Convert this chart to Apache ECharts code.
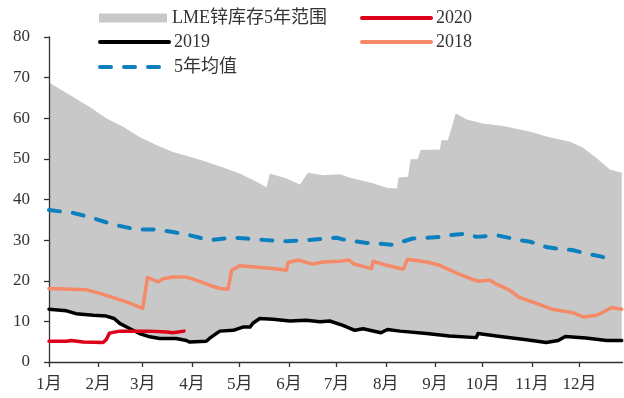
<!DOCTYPE html>
<html>
<head>
<meta charset="utf-8">
<script src="https://cdn.jsdelivr.net/npm/echarts@6/dist/echarts.min.js"></script>
<style>html,body{margin:0;padding:0;background:#fff}#c{width:624px;height:398px}</style>
</head>
<body>
<div id="c"></div>
<script>
// Month ticks (day of year where each month starts)
var monthStartDays = [0, 31, 59, 90, 120, 151, 181, 212, 243, 273, 304, 334];
var monthLabels = ['1月','2月','3月','4月','5月','6月','7月','8月','9月','10月','11月','12月'];

// LME zinc stocks 5-year range: upper edge (day, value)
var bandUpperDays = [0,15,25.6,36,46.6,57,67.6,78,88.6,99,109.6,120,130.6,137,139,149.5,158,163,172.5,183,189,204,212.5,219,220,226,227.6,232,234,246,247,251,253,256,263,273,286,303,315,328,336,345,353,360.5];
var bandUpperVals = [68.8,65.3,62.8,60.0,57.9,55.4,53.4,51.7,50.5,49.3,47.9,46.4,44.4,43.0,46.4,45.2,43.7,46.6,46.0,46.2,45.4,44.0,42.9,42.7,45.4,45.6,49.9,49.9,52.2,52.3,54.6,54.6,57.1,61.2,59.7,58.7,58.1,56.7,55.3,54.2,52.8,50.1,47.4,46.6];

// 2019 (also lower edge of the range)
var days2019 = [0,11,17,28,36,41,44.5,51,57,63.4,69.7,80,86.5,88.6,99,101,107.5,116,122,126.5,128.5,132.7,141,151.6,162,170.5,176.7,185,192.5,197.7,209,213,221,237.7,252,269,270,284,300.6,313,320.5,325,338,351,360.5];
var vals2019 = [13.0,12.6,11.9,11.5,11.3,10.7,9.5,8.2,7.0,6.2,5.8,5.8,5.3,4.9,5.1,5.8,7.6,7.8,8.6,8.6,9.6,10.7,10.5,10.1,10.3,9.9,10.1,9.0,7.8,8.2,7.2,8.0,7.6,7.0,6.4,6.0,7.0,6.3,5.5,4.8,5.3,6.3,5.9,5.3,5.3];

// 2020
var days2020 = [0,11,14,21.5,34,36,38,44.5,53,63.4,74,78,85];
var vals2020 = [5.1,5.1,5.3,4.9,4.8,5.5,7.1,7.6,7.6,7.6,7.4,7.2,7.6];

// 2018
var days2018 = [0,23.5,32,40,48.7,59,62,68.6,71.8,78,86.5,93,101,107.5,112.7,115,120,141,149.5,150.5,156.8,166,172.5,183,189,191.4,200,203,204,212.5,221,223,225.7,237.7,246,256.5,267,270,277.5,282,290,296,307,317.4,330,336.3,344.7,349,354,360.5];
var vals2018 = [18.1,17.8,16.9,15.9,14.8,13.2,20.8,19.7,20.5,20.9,20.9,20.1,18.9,18.1,17.9,22.6,23.7,23.0,22.6,24.5,25.1,24.1,24.6,24.8,25.1,24.2,23.3,23.0,24.8,23.8,23.0,22.9,25.3,24.6,23.8,21.9,20.3,19.9,20.1,19.1,17.7,15.9,14.4,12.9,12.1,11.1,11.5,12.3,13.4,13.0];

// 5-year average
var daysAvg = [0,15,23.5,36,44.5,55,67.6,78,88.6,101,116,124.3,137,149.5,162,181,187,200,204,216.6,219.8,229,237.7,248,252,263,269,282,296.4,303,313,320,330,336.3,347,354];
var valsAvg = [37.4,36.7,35.9,34.4,33.5,32.6,32.6,32.0,31.2,30.0,30.6,30.4,30.0,29.7,30.0,30.6,30.0,29.3,29.3,28.8,29.3,30.4,30.6,30.8,31.2,31.6,30.8,31.2,30.0,29.6,28.3,27.9,27.5,26.9,26.0,25.3];

function pairs(xs, ys) { return xs.map(function (x, i) { return [x, ys[i]]; }); }

var FONT = "'Liberation Serif', 'Noto Sans CJK SC', serif";
var TXT = '#333';

var chart = echarts.init(document.getElementById('c'), null, {renderer: 'canvas'});

function lineLegend(name, left, top) {
  return {
    data: [name], left: left, top: top, padding: 0, itemWidth: 69, itemHeight: 14, itemGap: 0,
    itemStyle: {opacity: 0, borderWidth: 0},
    lineStyle: {width: 4, cap: 'round'},
    textStyle: {fontFamily: FONT, fontSize: 18, color: TXT},
    selectedMode: false
  };
}

var option = {
  animation: false,
  backgroundColor: '#fff',
  grid: {left: 49, right: 1.5, top: 37, bottom: 36},
  legend: [
    {data: [{name: 'LME锌库存5年范围', icon: 'rect'}], left: 99, top: 9, padding: 0, itemWidth: 68, itemHeight: 9,
     textStyle: {fontFamily: FONT, fontSize: 18, color: TXT}, selectedMode: false},
    lineLegend('2020', 360, 9),
    lineLegend('2019', 98, 33),
    lineLegend('2018', 360, 33),
    lineLegend('5年均值', 98, 58)
  ],
  xAxis: {
    type: 'value', min: 0, max: 361, z: 3,
    splitLine: {show: false},
    axisLine: {show: true, lineStyle: {color: '#333', width: 1.3}},
    axisTick: {show: true, length: 5, inside: false, customValues: monthStartDays, lineStyle: {color: '#333', width: 1.3}},
    axisLabel: {customValues: monthStartDays, margin: 14, fontFamily: FONT, fontSize: 17, color: TXT,
      formatter: function (v) { var i = monthStartDays.indexOf(Math.round(v)); return i >= 0 ? monthLabels[i] : ''; }}
  },
  yAxis: {
    type: 'value', min: 0, max: 80, interval: 10, z: 3,
    splitLine: {show: false},
    axisLine: {show: true, lineStyle: {color: '#333', width: 1.3}},
    axisTick: {show: true, length: 5, inside: false, lineStyle: {color: '#333', width: 1.3}},
    axisLabel: {margin: 19, fontFamily: FONT, fontSize: 17, color: TXT}
  },
  series: [
    {
      name: 'LME锌库存5年范围', type: 'custom', z: 1,
      itemStyle: {color: '#C8C8C8'},
      data: [[0, 0]],
      renderItem: function (params, api) {
        var pts = [];
        for (var i = 0; i < bandUpperDays.length; i++) pts.push(api.coord([bandUpperDays[i], bandUpperVals[i]]));
        for (var j = days2019.length - 1; j >= 0; j--) pts.push(api.coord([days2019[j], vals2019[j]]));
        return {type: 'polygon', shape: {points: pts}, style: {fill: '#C8C8C8'}};
      }
    },
    {name: '2020', type: 'line', z: 6, symbol: 'none', data: pairs(days2020, vals2020),
     itemStyle: {color: '#DD0019'}, lineStyle: {color: '#DD0019', width: 3.5, cap: 'round', join: 'round'}},
    {name: '2019', type: 'line', z: 5, symbol: 'none', data: pairs(days2019, vals2019),
     itemStyle: {color: '#000'}, lineStyle: {color: '#000', width: 3.5, cap: 'round', join: 'round'}},
    {name: '2018', type: 'line', z: 5, symbol: 'none', data: pairs(days2018, vals2018),
     itemStyle: {color: '#F58A68'}, lineStyle: {color: '#F58A68', width: 3.5, cap: 'round', join: 'round'}},
    {name: '5年均值', type: 'line', z: 5, symbol: 'none', data: pairs(daysAvg, valsAvg),
     itemStyle: {color: '#0C80BF'}, lineStyle: {color: '#0C80BF', width: 4, type: [11, 13], cap: 'round', join: 'round'}}
  ]
};
chart.setOption(option);
</script>
</body>
</html>
